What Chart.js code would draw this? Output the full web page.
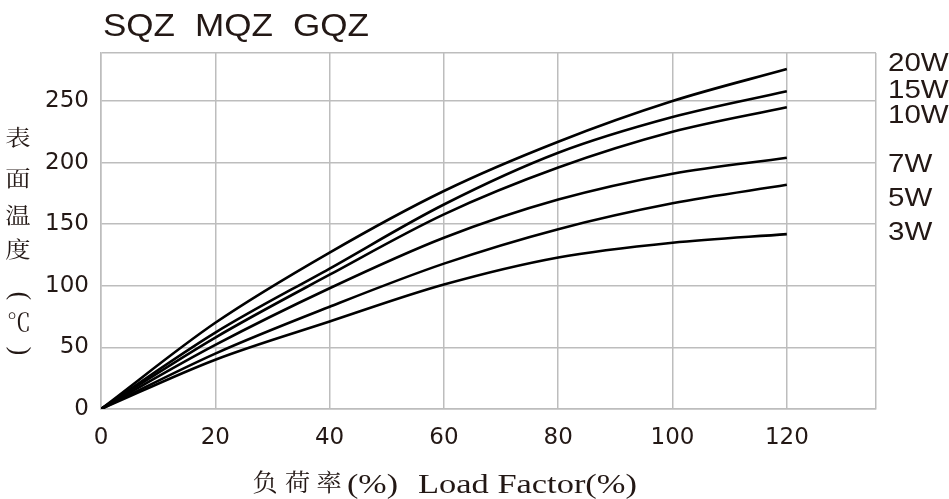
<!DOCTYPE html>
<html>
<head>
<meta charset="utf-8">
<script src="https://cdn.jsdelivr.net/npm/chart.js@4.4.1/dist/chart.umd.min.js"></script>
<style>
  html, body { margin: 0; padding: 0; background: #fff; }
  #wrap { width: 949px; height: 499px; position: relative; }
</style>
</head>
<body>
<div id="wrap"><canvas id="chart"></canvas></div>
<script>
// Load factor (%) on the x axis
const loadFactor = [0, 20, 40, 60, 80, 100, 120];

// Surface temperature (deg C) per rated power
const temp20W = [0, 70, 127, 177, 217, 250, 276];
const temp15W = [0, 62, 114, 166, 208, 237, 258];
const temp10W = [0, 58, 109, 158, 196, 225, 245];
const temp7W  = [0, 52, 98, 139, 170, 191, 204];
const temp5W  = [0, 45, 83, 118, 146, 167, 182];
const temp3W  = [0, 40, 71, 101, 123, 135, 142];

const seriesNames = ['20W', '15W', '10W', '7W', '5W', '3W'];
const seriesData = [temp20W, temp15W, temp10W, temp7W, temp5W, temp3W];
// where each name sits on the right, in axis units
const nameValues = [281.3, 259.8, 239.5, 199.3, 172.1, 144.1];

const xTicks = [0, 20, 40, 60, 80, 100, 120];
const yTicks = [0, 50, 100, 150, 200, 250];
const xMax = 135.6;
const yMax = 289;

const INK = '#231815';
const GRID = '#bdbdbd';

// draw text squeezed / stretched horizontally (optionally turned)
function stretchText(ctx, text, x, y, font, sx, align, baseline, angle) {
    ctx.save();
    ctx.font = font;
    ctx.fillStyle = INK;
    ctx.textAlign = align || 'left';
    ctx.textBaseline = baseline || 'alphabetic';
    ctx.translate(x, y);
    if (angle) ctx.rotate(angle);
    ctx.scale(sx, 1);
    ctx.fillText(text, 0, 0);
    ctx.restore();
}

// draw text so that it spans left..right
function fitText(ctx, text, left, right, y, font) {
    ctx.save();
    ctx.font = font;
    const w = ctx.measureText(text).width;
    ctx.restore();
    stretchText(ctx, text, left, y, font, (right - left) / w, 'left');
}

const labelsPlugin = {
    id: 'labels',
    afterDraw(chart) {
        const ctx = chart.ctx;
        const yScale = chart.scales.y;
        const cjk = '"Noto Serif CJK SC", "Noto Sans CJK SC", sans-serif';
        const sans = '"Liberation Sans", Arial, sans-serif';
        const serif = '"Liberation Serif", serif';

        // heading
        fitText(ctx, 'SQZ', 103, 175, 36, '32px ' + sans);
        fitText(ctx, 'MQZ', 195, 273, 36, '32px ' + sans);
        fitText(ctx, 'GQZ', 293, 369, 36, '32px ' + sans);

        // series names at the right
        seriesNames.forEach((name, i) => {
            const py = yScale.getPixelForValue(nameValues[i]);
            stretchText(ctx, name, 888, py + 9, '25px ' + sans, 1.18, 'left');
        });

        // vertical y title, brackets turned a quarter
        const yTitle = ['表', '面', '温', '度'];
        const yPos = [137, 178, 215, 249];
        yTitle.forEach((ch, i) => {
            stretchText(ctx, ch, 18, yPos[i], '22px ' + cjk, 1.15, 'center', 'middle');
        });
        stretchText(ctx, '(', 19, 296, '28px ' + serif, 0.9, 'center', 'middle', Math.PI / 2);
        stretchText(ctx, '℃', 19, 322, '24px ' + cjk, 1.0, 'center', 'middle');
        stretchText(ctx, ')', 19, 351, '28px ' + serif, 0.9, 'center', 'middle', Math.PI / 2);

        // x title
        const xTitle = ['负', '荷', '率'];
        const xPos = [265, 297.5, 329];
        xTitle.forEach((ch, i) => {
            stretchText(ctx, ch, xPos[i], 482, '24px ' + cjk, 1.05, 'center', 'middle');
        });
        fitText(ctx, '(%)', 347, 398, 493, '27px ' + serif);
        fitText(ctx, 'Load Factor(%)', 418, 637, 493, '27px ' + serif);
    }
};

new Chart(document.getElementById('chart'), {
    type: 'line',
    data: {
        datasets: seriesNames.map((name, i) => ({
            label: name,
            data: loadFactor.map((x, j) => ({ x: x, y: seriesData[i][j] })),
            borderColor: '#000',
            borderWidth: 2.6,
            pointRadius: 0,
            fill: false,
            cubicInterpolationMode: 'monotone'
        }))
    },
    options: {
        responsive: true,
        maintainAspectRatio: false,
        animation: false,
        layout: { padding: { top: 53, right: 73, left: 0, bottom: 0 } },
        plugins: {
            legend: { display: false },
            tooltip: { enabled: false }
        },
        scales: {
            x: {
                type: 'linear',
                min: 0,
                max: xMax,
                afterBuildTicks(scale) {
                    scale.ticks = xTicks.concat([xMax]).map(v => ({ value: v }));
                },
                afterFit(scale) { scale.height = 90; },
                grid: { color: GRID, lineWidth: 1.5, drawTicks: false },
                border: { color: GRID, width: 1.5 },
                ticks: {
                    autoSkip: false,
                    maxRotation: 0,
                    padding: 15,
                    color: INK,
                    font: { family: '"DejaVu Sans", sans-serif', size: 23 },
                    callback: v => xTicks.includes(v) ? String(v) : ''
                }
            },
            y: {
                type: 'linear',
                min: 0,
                max: yMax,
                afterBuildTicks(scale) {
                    scale.ticks = yTicks.concat([yMax]).map(v => ({ value: v }));
                },
                afterFit(scale) { scale.width = 101; },
                grid: { color: GRID, lineWidth: 1.5, drawTicks: false },
                border: { color: GRID, width: 1.5 },
                ticks: {
                    autoSkip: false,
                    padding: 12,
                    color: INK,
                    font: { family: '"DejaVu Sans", sans-serif', size: 23 },
                    callback: v => yTicks.includes(v) ? String(v) : ''
                }
            }
        }
    },
    plugins: [labelsPlugin]
});
</script>
</body>
</html>
